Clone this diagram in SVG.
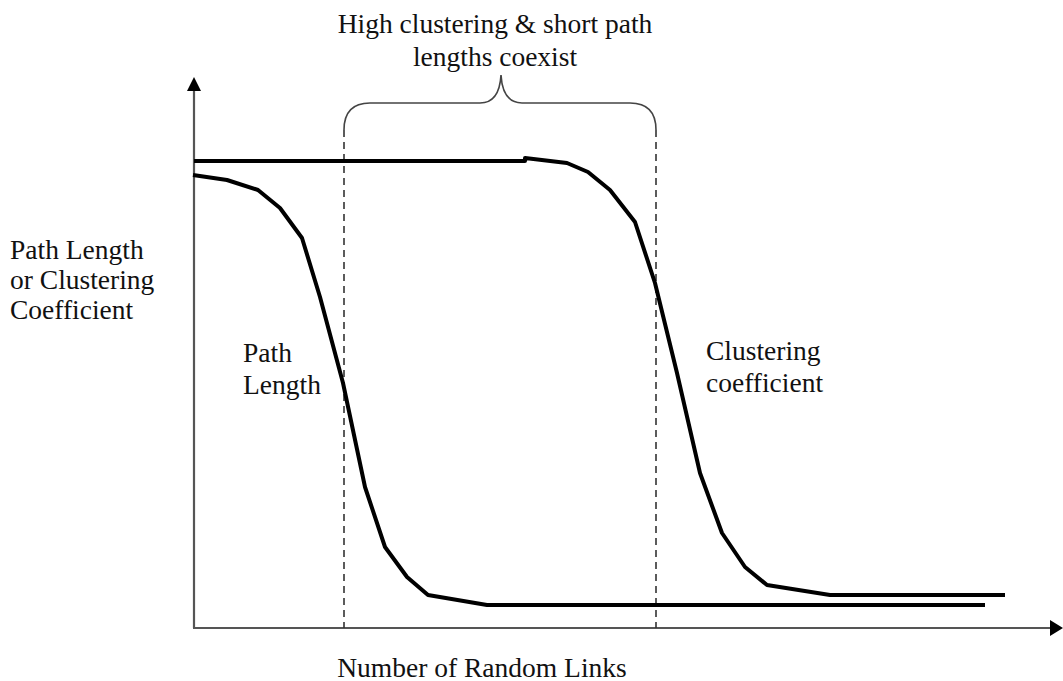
<svg xmlns="http://www.w3.org/2000/svg" width="1063" height="681" viewBox="0 0 1063 681">
<style>
text{font-family:"Liberation Serif","Times New Roman",serif;font-size:27.5px;fill:#111}
.axis{stroke:#555;stroke-width:2.2;fill:none}
.curve{stroke:#000;stroke-width:4;fill:none;stroke-linejoin:round}
.dash{stroke:#333;stroke-width:1.6;stroke-dasharray:7,5;fill:none}
.brace{stroke:#444;stroke-width:1.6;fill:none}
</style>
<rect width="1063" height="681" fill="#fff"/>
<g id="axes">
<line class="axis" x1="194" y1="628" x2="194" y2="88"/>
<polygon points="194,77 187,91 201,91" fill="#000"/>
<line class="axis" x1="193" y1="628" x2="1052" y2="628"/>
<polygon points="1063,628 1050,620 1050,636" fill="#000"/>
</g>
<g id="connectors">
<line class="dash" x1="344" y1="130" x2="344" y2="628"/>
<line class="dash" x1="656" y1="130" x2="656" y2="628"/>
<path class="brace" d="M344,130 C344,112 352,103 370,103 L480,103 C494,103 500,92 501,75 C502,92 508,103 522,103 L630,103 C648,103 656,112 656,130"/>
</g>
<g id="clustering-curve">
<path class="curve" d="M194,161 L525,161 L525,158 L567,163 L588,172 L610,190 L635,222 L655,283 L677,373 L700,473 L722,533 L745,567 L767,585 L830,595 L1005,595"/>
</g>
<g id="path-length-curve">
<path class="curve" d="M193,175 L227,180 L258,190 L280,208 L302,238 L320,297 L343,383 L365,487 L385,547 L407,577 L428,595 L487,605 L985,605"/>
</g>
<g id="labels">
<text x="495" y="33" text-anchor="middle">High clustering &amp; short path</text>
<text x="495" y="66" text-anchor="middle">lengths coexist</text>
<text x="10" y="259">Path Length</text>
<text x="10" y="289">or Clustering</text>
<text x="10" y="319">Coefficient</text>
<text x="243" y="362">Path</text>
<text x="243" y="394">Length</text>
<text x="706" y="360">Clustering</text>
<text x="706" y="392">coefficient</text>
<text x="482" y="677" text-anchor="middle">Number of Random Links</text>
</g>
</svg>
